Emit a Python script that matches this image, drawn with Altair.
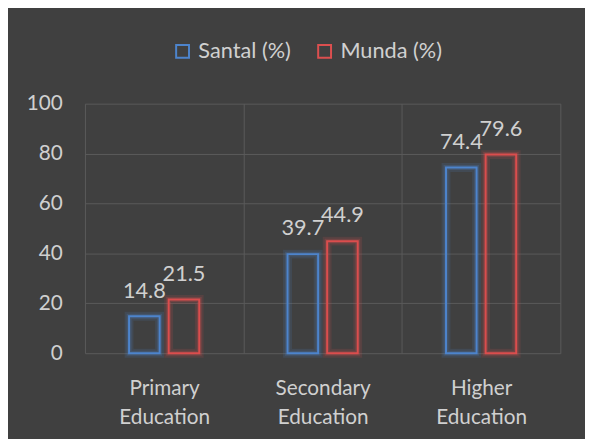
import altair as alt
import pandas as pd

categories = ["Primary Education", "Secondary Education", "Higher Education"]
series = ["Santal (%)", "Munda (%)"]
santal = [14.8, 39.7, 74.4]
munda = [21.5, 44.9, 79.6]
colors = ["#4d84cc", "#dc4f4f"]

rows = []
for c, s, m in zip(categories, santal, munda):
    rows.append({"cat": c, "series": series[0], "value": s})
    rows.append({"cat": c, "series": series[1], "value": m})
df = pd.DataFrame(rows)

FONT = "Lato"
TXT = "#d0d0d0"
GRID = "#5a5a5a"

x = alt.X("cat:N", sort=categories, title=None,
          scale=alt.Scale(paddingInner=0, paddingOuter=0),
          axis=alt.Axis(grid=True, tickBand="extent", ticks=False, domain=False,
                        labelAngle=0, labelExpr="split(datum.label, ' ')",
                        labelLineHeight=29, labelPadding=25, labelBaseline="top",
                        labelFontSize=21, labelColor=TXT, labelFont=FONT,
                        gridColor=GRID, gridWidth=1))
xo = alt.XOffset("series:N", sort=series,
                 scale=alt.Scale(paddingInner=0, paddingOuter=1))
y = alt.Y("value:Q", title=None,
          scale=alt.Scale(domain=[0, 100], nice=False),
          axis=alt.Axis(values=[0, 20, 40, 60, 80, 100], ticks=False, domain=False,
                        labelPadding=23, labelFontSize=21, labelColor=TXT,
                        labelFont=FONT, gridColor=GRID, gridWidth=1))

legend = alt.Legend(title=None, orient="none", legendX=88, legendY=-64,
                    direction="horizontal", symbolType="square",
                    symbolSize=170, symbolStrokeWidth=2,
                    symbolFillColor="transparent", symbolOpacity=1,
                    labelFontSize=22, labelColor=TXT, labelFont=FONT,
                    labelOffset=5, columnPadding=23, padding=0)
stroke = alt.Stroke("series:N", sort=series,
                    scale=alt.Scale(domain=series, range=colors), legend=legend)

base = alt.Chart(df)
BW = 31

bars = base.mark_bar(width=BW, fill="transparent", strokeWidth=2, strokeOpacity=1).encode(
    x=x, xOffset=xo, y=y, stroke=stroke)
glow1 = base.mark_bar(width=BW, fill="transparent", strokeWidth=9, strokeOpacity=0.14).encode(
    x=x, xOffset=xo, y=y, stroke=stroke)
glow2 = base.mark_bar(width=BW, fill="transparent", strokeWidth=5, strokeOpacity=0.22).encode(
    x=x, xOffset=xo, y=y, stroke=stroke)
labels = base.mark_text(dy=-19, baseline="alphabetic", fontSize=22, color=TXT, font=FONT).encode(
    x=x, xOffset=xo, y=y, text=alt.Text("value:Q", format=".1f"))

chart = alt.layer(bars, glow1, glow2, labels).properties(
    width=482, height=253,
    autosize=alt.AutoSizeParams(type="none"),
    padding={"left": 78, "top": 94, "right": 25, "bottom": 84},
    background="#404040",
).configure_view(strokeWidth=0)

chart.save("out.html", embed_options={"renderer": "svg", "actions": False})
